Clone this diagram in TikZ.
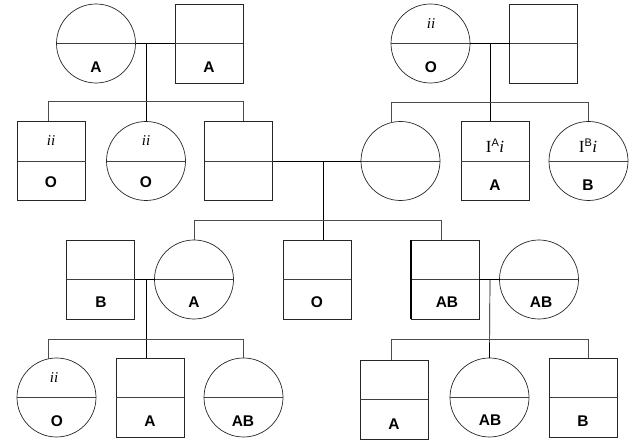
\documentclass[tikz,border=0pt]{standalone}
\usepackage{fontspec}
\setmainfont{Liberation Serif}
\setsansfont{Liberation Sans}
\tikzset{
  x=1pt, y=-1pt,
  person/.style={draw=black!85, line width=0.7pt, inner sep=0pt, outer sep=0pt},
  sq/.style={person, rectangle, minimum width=68pt, minimum height=79pt},
  ci/.style={person, circle, minimum size=79pt},
  blood/.style={font=\sffamily\bfseries\fontsize{15.5}{15.5}\selectfont, inner sep=0pt},
  geno/.style={font=\rmfamily\fontsize{15}{15}\selectfont, inner sep=0pt},
  div/.style={draw=black!75, line width=0.7pt},
  link/.style={draw=black, line width=0.7pt},
  sib/.style={draw=black!70, line width=0.7pt}
}
\newcommand{\genIA}[1]{{\fontsize{17}{17}\selectfont I\textsuperscript{\sffamily\fontsize{11}{11}\selectfont #1}\textit{i}}}
\begin{document}
\begin{tikzpicture}
\useasboundingbox (0,0) rectangle (633,443);
% ---------- generation 1 ----------
\node[ci] (p1) at (96,43.5) {};
\node[sq] (p2) at (209,43.5) {};
\node[ci] (p3) at (430.5,43.5) {};
\node[sq] (p4) at (543.5,43.5) {};
% ---------- generation 2 ----------
\node[sq] (c1) at (51.5,161) {};
\node[ci] (c2) at (146,161) {};
\node[sq] (c3) at (238.5,161) {};
\node[ci] (c4) at (400.5,161) {};
\node[sq] (c5) at (495,161) {};
\node[ci] (c6) at (588.5,161) {};
% ---------- generation 3 ----------
\node[sq] (g1) at (100.5,279.5) {};
\node[ci] (g2) at (194,279.5) {};
\node[sq] (g3) at (317,279.5) {};
\node[sq] (g4) at (445,279.5) {};
\node[ci] (g5) at (539,279.5) {};
% ---------- generation 4 ----------
\node[ci] (k1) at (56.5,397.5) {};
\node[sq] (k2) at (150,397.5) {};
\node[ci] (k3) at (243.5,397.5) {};
\node[sq] (k4) at (394,399.5) {};
\node[ci] (k5) at (489.5,397.5) {};
\node[sq] (k6) at (583.5,397.5) {};
% ---------- dividers ----------
\foreach \n in {p1,p2,p3,p4,c1,c2,c3,c4,c5,c6,g1,g2,g3,g4,g5,k1,k2,k3,k4,k5,k6}
  \draw[div] (\n.west) -- (\n.east);
\draw[line width=1.2pt] (g4.north west) -- (g4.south west);
% ---------- labels ----------
\node[blood] (lp1) at (96,67) {A};
\node[blood] (lp2) at (209,67) {A};
\node[geno] (gp3) at (431,24) {\textit{ii}};
\node[blood] (lp3) at (431,67) {O};
\node[geno] (gc1) at (51,141) {\textit{ii}};
\node[blood] (lc1) at (51,182) {O};
\node[geno] (gc2) at (146,141) {\textit{ii}};
\node[blood] (lc2) at (146,182) {O};
\node[geno] (gc5) at (495,146) {\genIA{A}};
\node[blood] (lc5) at (495,185) {A};
\node[geno] (gc6) at (588,146) {\genIA{B}};
\node[blood] (lc6) at (588,185) {B};
\node[blood] (lg1) at (101,302) {B};
\node[blood] (lg2) at (194,302) {A};
\node[blood] (lg3) at (317,302) {O};
\node[blood] (lg4) at (447,302) {AB};
\node[blood] (lg5) at (541,302) {AB};
\node[geno] (gk1) at (54,378) {\textit{ii}};
\node[blood] (lk1) at (57,421) {O};
\node[blood] (lk2) at (150,421) {A};
\node[blood] (lk3) at (243,421) {AB};
\node[blood] (lk4) at (394,424) {A};
\node[blood] (lk5) at (490,420) {AB};
\node[blood] (lk6) at (583,421) {B};
% ---------- marriages and descent ----------
\coordinate (m1) at (146,43.5);
\coordinate (m2) at (490,43.5);
\coordinate (m3) at (323,161);
\coordinate (m4) at (146,279.5);
\coordinate (m5) at (490,279.5);
\draw[link] (p1.east) -- (p2.west);
\draw[link] (p3.east) -- (p4.west);
\draw[link] (c3.east) -- (c4.west);
\draw[link] (g1.east) -- (g2.west);
\draw[link] (g4.east) -- (g5.west);
% family 1
\coordinate (t1) at ([xshift=-3.5pt]c1.north);
\coordinate (t3) at ([xshift=4.5pt]c3.north);
\draw[link] (m1) -- (c2.north);
\draw[sib] (t1) -- ++(0,-20) -| (t3);
% family 2
\coordinate (t4) at (c4.103);
\coordinate (t5) at ([xshift=-5pt]c5.north);
\draw[link] (m2) -- (t5);
\draw[sib] (t4) -- (t4 |- 0,102) -| (c6.north);
% family 3
\coordinate (t8) at ([xshift=6pt]g3.north);
\coordinate (t9) at ([xshift=-4pt]g4.north);
\draw[link] (m3) -- (t8);
\draw[sib] (g2.north) -- ++(0,-20) -| (t9);
% family 4
\coordinate (u1) at (k1.102);
\coordinate (u2) at ([xshift=-4pt]k2.north);
\draw[link] (m4) -- (u2);
\draw[sib] (u1) -- (u1 |- 0,339) -| (k3.north);
% family 5
\coordinate (u4) at ([xshift=-3pt]k4.north);
\coordinate (u6) at ([xshift=4.5pt]k6.north);
\draw[link] (m5) -- (k5.north);
\draw[sib] (u4) -- (u4 |- 0,339) -| (u6);
\end{tikzpicture}
\end{document}
